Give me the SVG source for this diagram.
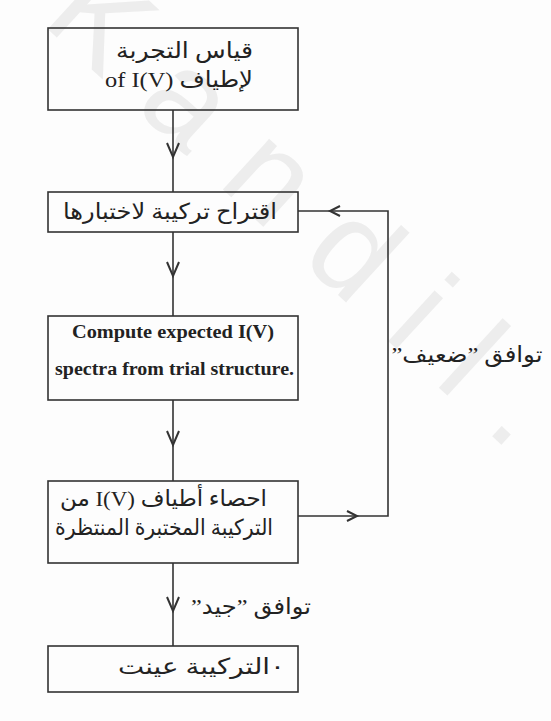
<svg xmlns="http://www.w3.org/2000/svg" width="551" height="721" viewBox="0 0 551 721">
  <style>
    .box { fill: none; stroke: #333; stroke-width: 1.6; }
    .wire { fill: none; stroke: #333; stroke-width: 1.6; }
    .head { fill: none; stroke: #333; stroke-width: 2; stroke-linejoin: miter; }
    .ar { font-family: "Liberation Serif", "DejaVu Sans", serif; font-size: 22px; fill: #222; direction: rtl; unicode-bidi: embed; }
    .en { font-family: "Liberation Serif", "Times New Roman", serif; font-size: 18px; font-weight: bold; fill: #222; }
    .mark { font-family: "Liberation Sans", Arial, sans-serif; font-size: 130px; fill: #ededed; letter-spacing: 40px; }
  </style>

  <rect width="551" height="721" fill="#fdfdfd"/>

  <!-- pale watermark behind the chart -->
  <text class="mark" transform="translate(40,22) rotate(42.5)" x="0" y="0">Kandil.</text>

  <g id="connectors">
    <!-- main vertical flow -->
    <line class="wire" x1="173" y1="110" x2="173" y2="192"/>
    <path class="head" d="M167,143 L173,157 L179,143"/>
    <line class="wire" x1="173" y1="232" x2="173" y2="316"/>
    <path class="head" d="M167,262 L173,276 L179,262"/>
    <line class="wire" x1="173" y1="400" x2="173" y2="481"/>
    <path class="head" d="M167,431 L173,445 L179,431"/>
    <line class="wire" x1="173" y1="563" x2="173" y2="646"/>
    <path class="head" d="M167,597 L173,611 L179,597"/>
    <!-- feedback loop -->
    <polyline class="wire" points="298,516 388,516 388,211 298,211"/>
    <path class="head" d="M347,511 L357,516 L347,521"/>
    <path class="head" d="M340,206 L330,211 L340,216"/>
    <text class="ar" x="467" y="362" text-anchor="middle" textLength="151" lengthAdjust="spacingAndGlyphs">توافق ”ضعيف”</text>
    <text class="ar" x="251" y="614" text-anchor="middle" textLength="120" lengthAdjust="spacingAndGlyphs">توافق ”جيد”</text>
  </g>

  <g id="measure">
    <rect class="box" x="48" y="28" width="250" height="82"/>
    <text class="ar" x="184.5" y="58" text-anchor="middle" textLength="137" lengthAdjust="spacingAndGlyphs">قياس التجربة</text>
    <text class="ar" x="179" y="87" text-anchor="middle" textLength="148" lengthAdjust="spacingAndGlyphs">لإطياف ⁦of I(V)⁩</text>
  </g>

  <g id="propose">
    <rect class="box" x="48" y="192" width="250" height="40"/>
    <text class="ar" x="170" y="219" text-anchor="middle" textLength="214" lengthAdjust="spacingAndGlyphs">اقتراح تركيبة لاختبارها</text>
  </g>

  <g id="compute">
    <rect class="box" x="48" y="316" width="250" height="84"/>
    <text class="en" x="173" y="338" text-anchor="middle" textLength="202" lengthAdjust="spacingAndGlyphs">Compute expected I(V)</text>
    <text class="en" x="174.5" y="375" text-anchor="middle" textLength="239" lengthAdjust="spacingAndGlyphs">spectra from trial structure.</text>
  </g>

  <g id="compare">
    <rect class="box" x="48" y="481" width="250" height="82"/>
    <text class="ar" x="163.5" y="506" text-anchor="middle" textLength="207" lengthAdjust="spacingAndGlyphs">احصاء أطياف  ⁦I(V)⁩ من</text>
    <text class="ar" x="164" y="535" text-anchor="middle" textLength="218" lengthAdjust="spacingAndGlyphs">التركيبة المختبرة المنتظرة</text>
  </g>

  <g id="result">
    <rect class="box" x="48" y="646" width="250" height="46"/>
    <text class="ar" x="201.5" y="674" text-anchor="middle" textLength="167" lengthAdjust="spacingAndGlyphs">٠التركيبة عينت</text>
  </g>
</svg>
